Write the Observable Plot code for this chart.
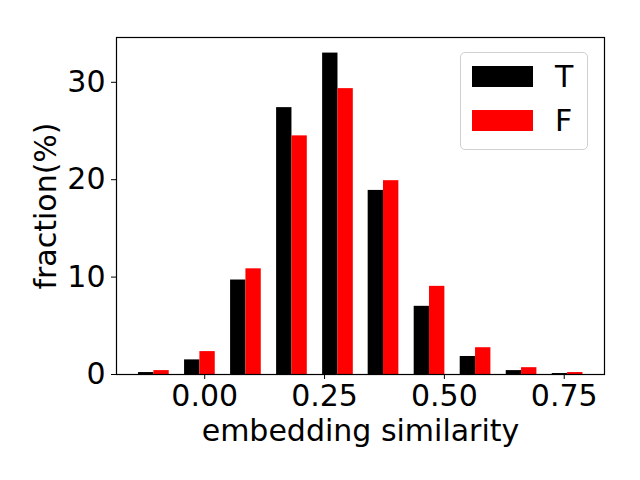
<!DOCTYPE html>
<html>
<head>
<meta charset="utf-8">
<script src="https://cdn.jsdelivr.net/npm/d3@7"></script>
<script src="https://cdn.jsdelivr.net/npm/@observablehq/plot@0.6"></script>
<style>
  html, body { margin: 0; padding: 0; background: #fff; }
  #wrap { position: relative; width: 640px; height: 480px; font-family: "DejaVu Sans", sans-serif; }
  #legend { position: absolute; left: 460px; top: 52px; width: 126px; height: 96px;
    border: 1px solid #d0d0d0; border-radius: 5px; background: rgba(255,255,255,0.8); }
  .sw { position: absolute; left: 11px; width: 61px; height: 21px; }
  .lt { position: absolute; left: 94px; font-size: 30px; line-height: 30px; color: #000; }
</style>
</head>
<body>
<div id="wrap"></div>
<script>
// Bin centers (embedding similarity) and fractions (%) for each series
const binCenters = [-0.106, -0.010, 0.086, 0.182, 0.278, 0.373, 0.469, 0.565, 0.661, 0.757];
const tValues = [0.2, 1.5, 9.7, 27.4, 33.0, 18.9, 7.0, 1.85, 0.4, 0.1];
const fValues = [0.4, 2.35, 10.85, 24.5, 29.35, 19.9, 9.05, 2.75, 0.7, 0.2];
const seriesNames = ["T", "F"];
const seriesColors = ["#000000", "#ff0000"];
const xTicks = [0, 0.25, 0.5, 0.75];
const yTicks = [0, 10, 20, 30];
const xLabel = "embedding similarity";
const yLabel = "fraction(%)";
const barWidth = 0.032;

const rows = [];
binCenters.forEach((c, i) => {
  rows.push({series: "T", x1: c - barWidth, x2: c, y: tValues[i]});
  rows.push({series: "F", x1: c, x2: c + barWidth, y: fValues[i]});
});

const chart = Plot.plot({
  width: 640,
  height: 480,
  marginLeft: 116,
  marginRight: 36,
  marginTop: 37,
  marginBottom: 106,
  style: {fontFamily: "DejaVu Sans, sans-serif", color: "#000", background: "#fff", overflow: "visible"},
  x: {domain: [-0.184, 0.834]},
  y: {domain: [0, 34.6]},
  color: {domain: seriesNames, range: seriesColors},
  marks: [
    Plot.rectY(rows, {x1: "x1", x2: "x2", y1: 0, y2: "y", fill: "series"}),
    Plot.frame({stroke: "#000", strokeWidth: 1.2}),
    Plot.axisX({ticks: xTicks, tickFormat: d3.format(".2f"), tickSize: 5, tickPadding: 5,
      fontSize: 30, label: null}),
    Plot.axisY({ticks: yTicks, tickFormat: d3.format("d"), tickSize: 5, tickPadding: 6,
      fontSize: 30, label: null}),
    Plot.text([xLabel], {text: d => d, frameAnchor: "bottom", lineAnchor: "middle", textAnchor: "middle",
      dy: 57, fontSize: 30, fill: "#000"}),
    Plot.text([yLabel], {text: d => d, frameAnchor: "left", lineAnchor: "middle", textAnchor: "middle",
      dx: -70, rotate: -90, fontSize: 30, fill: "#000"})
  ]
});
document.getElementById("wrap").appendChild(chart);

const legend = document.createElement("div");
legend.id = "legend";
seriesNames.forEach((name, i) => {
  const sw = document.createElement("div");
  sw.className = "sw";
  sw.style.top = (13 + i * 44) + "px";
  sw.style.background = seriesColors[i];
  legend.appendChild(sw);
  const t = document.createElement("div");
  t.className = "lt";
  t.style.top = (9 + i * 44) + "px";
  t.textContent = name;
  legend.appendChild(t);
});
document.getElementById("wrap").appendChild(legend);
</script>
</body>
</html>
